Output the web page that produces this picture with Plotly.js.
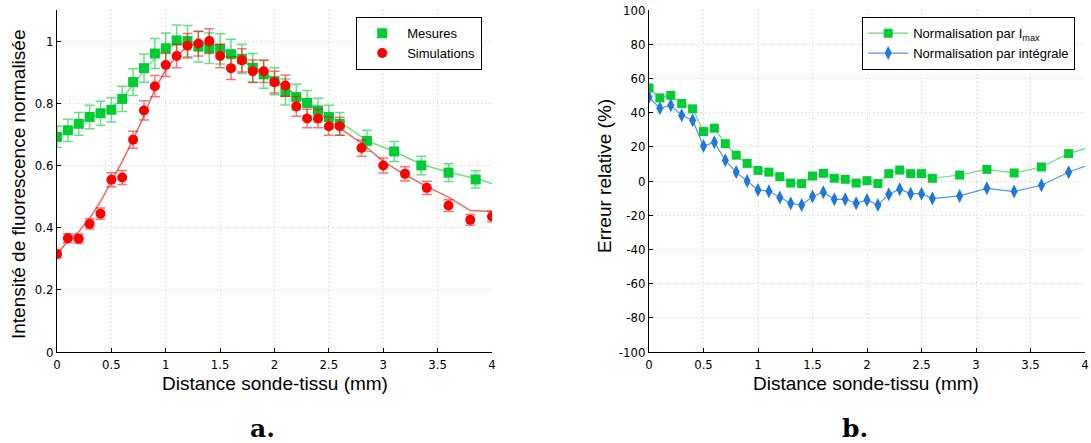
<!DOCTYPE html>
<html>
<head>
<meta charset="utf-8">
<script src="https://cdn.plot.ly/plotly-3.0.1.min.js"></script>
<style>html,body{margin:0;padding:0;background:#fff;}#chart{width:1091px;height:443px;}</style>
</head>
<body>
<div id="chart"></div>
<script>
// ---- Data ----
const xMes = [0,0.1,0.2,0.3,0.4,0.5,0.6,0.7,0.8,0.9,1.0,1.1,1.2,1.3,1.4,1.5,1.6,1.7,1.8,1.9,2.0,2.1,2.2,2.3,2.4,2.5,2.6,2.85,3.1,3.35,3.6,3.85];
const mesures = [0.692,0.713,0.734,0.756,0.768,0.779,0.814,0.868,0.913,0.960,0.977,1.002,1.0,0.982,0.977,0.975,0.958,0.943,0.914,0.893,0.871,0.836,0.82,0.801,0.777,0.756,0.734,0.679,0.645,0.60,0.577,0.555];
const xSim = [0,0.1,0.2,0.3,0.4,0.5,0.6,0.7,0.8,0.9,1.0,1.1,1.2,1.3,1.4,1.5,1.6,1.7,1.8,1.9,2.0,2.1,2.2,2.3,2.4,2.5,2.6,2.8,3.0,3.2,3.4,3.6,3.8,4.0];
const simulations = [0.315,0.366,0.364,0.412,0.445,0.554,0.561,0.683,0.777,0.855,0.923,0.952,0.985,0.992,1.0,0.952,0.913,0.938,0.903,0.903,0.868,0.857,0.790,0.751,0.751,0.726,0.726,0.656,0.60,0.573,0.528,0.471,0.425,0.436];
const xFitMes = [0,0.1,0.2,0.3,0.4,0.5,0.6,0.7,0.8,0.9,1.0,1.1,1.2,1.3,1.4,1.5,1.6,1.7,1.8,1.9,2.0,2.1,2.2,2.3,2.4,2.5,2.6,2.85,3.1,3.35,3.6,3.85,4.0];
const fitMes = [0.692,0.712,0.732,0.752,0.77,0.787,0.815,0.86,0.905,0.945,0.975,0.99,0.995,0.99,0.982,0.972,0.958,0.942,0.922,0.9,0.876,0.85,0.826,0.804,0.782,0.76,0.74,0.68,0.645,0.604,0.578,0.558,0.542];
const fitSim = [0.317,0.355,0.387,0.43,0.484,0.548,0.613,0.683,0.76,0.845,0.908,0.952,0.983,0.993,0.993,0.98,0.96,0.938,0.915,0.895,0.872,0.85,0.825,0.8,0.773,0.746,0.72,0.672,0.613,0.57,0.532,0.498,0.455,0.452];
const errMesPct = 5;   // error bars (% of value), measured
const errSimPct = 4;

const xErr = [0,0.1,0.2,0.3,0.4,0.5,0.6,0.7,0.8,0.9,1.0,1.1,1.2,1.3,1.4,1.5,1.6,1.7,1.8,1.9,2.0,2.1,2.2,2.3,2.4,2.5,2.6,2.85,3.1,3.35,3.6,3.85,4.1];
const errImax = [54.4,48.6,50.1,45.3,42.2,28.9,30.9,21.8,15.1,10.3,6.2,5.2,2.5,-1.2,-1.5,2.9,4.5,1.6,1.0,-1.2,0.2,-1.5,4.3,6.4,4.3,4.3,1.6,3.5,6.8,4.7,8.2,16.0,20.8];
const errInt = [49.1,42.5,44.3,38.4,35.5,20.4,22.7,12.1,5.2,0,-5.2,-6.0,-9.7,-13.0,-14.1,-9.1,-6.6,-10.7,-10.7,-13.0,-11.1,-14.1,-7.7,-4.8,-7.4,-7.4,-10.3,-8.7,-4.3,-6.2,-2.5,5.1,11.1];

const yTicksA = [0, 0.2, 0.4, 0.6, 0.8, 1];
const yTicksB = [-100, -80, -60, -40, -20, 0, 20, 40, 60, 80, 100];
const yTickTextB = ['-100', '-80', '-60', '-40', '-20', '0', '20', '40', '60', '80', '100'];

const xTitle = 'Distance sonde-tissu (mm)';
const yTitleA = 'Intensité de fluorescence normalisée';
const yTitleB = 'Erreur relative (%)';

// ---- Styles ----
const W = 1091, H = 443;
const tickFont = {family: '"Liberation Sans Narrow", "Arial Narrow", "DejaVu Sans Condensed", "Liberation Sans", Arial, sans-serif', size: 13, color: '#000'};
const titleFont = {family: '"Liberation Sans", Arial, sans-serif', size: 19, color: '#000'};
const legFont = {family: '"Liberation Sans", Arial, sans-serif', size: 13, color: '#000'};
const green = 'rgb(0,204,51)', red = 'rgb(255,0,0)', blue = 'rgb(30,120,220)';

const traces = [
  {x: xFitMes, y: fitMes, mode: 'lines', line: {color: 'rgb(110,225,130)', width: 1.5}, showlegend: false, hoverinfo: 'skip', xaxis: 'x', yaxis: 'y'},
  {x: xSim, y: fitSim, mode: 'lines', line: {color: 'rgb(255,100,100)', width: 1.5}, showlegend: false, hoverinfo: 'skip', xaxis: 'x', yaxis: 'y'},
  {x: xMes, y: mesures, name: 'Mesures', mode: 'markers', marker: {symbol: 'square', size: 10, color: green},
   error_y: {type: 'percent', value: errMesPct, color: 'rgba(0,204,51,0.6)', thickness: 1.5, width: 5},
   xaxis: 'x', yaxis: 'y', legend: 'legend'},
  {x: xSim, y: simulations, name: 'Simulations', mode: 'markers', marker: {symbol: 'circle', size: 10, color: red},
   error_y: {type: 'percent', value: errSimPct, color: 'rgba(255,0,0,0.55)', thickness: 1.5, width: 5},
   xaxis: 'x', yaxis: 'y', legend: 'legend'},
  {x: xErr, y: errImax, name: 'Normalisation par I<sub>max</sub>', mode: 'lines+markers',
   line: {color: 'rgb(100,220,120)', width: 1.2}, marker: {symbol: 'square', size: 9, color: green},
   xaxis: 'x2', yaxis: 'y2', legend: 'legend2'},
  {x: xErr, y: errInt, name: 'Normalisation par intégrale', mode: 'lines+markers',
   line: {color: 'rgb(80,150,230)', width: 1.2}, marker: {symbol: 'diamond-tall', size: 10, color: blue},
   xaxis: 'x2', yaxis: 'y2', legend: 'legend2'}
];

const axBase = {
  showgrid: true, gridcolor: '#cfcfcf', griddash: '1px,3px', gridwidth: 1,
  showline: true, linecolor: '#000', linewidth: 1, mirror: false,
  ticks: 'inside', ticklen: 4, tickcolor: '#000', zeroline: false,
  tickfont: tickFont, fixedrange: true
};
const yDom = [(H - 352) / H, (H - 10) / H];

const layout = {
  width: W, height: H,
  margin: {l: 0, r: 0, t: 0, b: 0},
  paper_bgcolor: '#fff', plot_bgcolor: '#fff',
  showlegend: true,
  xaxis: Object.assign({}, axBase, {domain: [57 / W, 492 / W], range: [0, 4], tick0: 0, dtick: 0.5, anchor: 'y'}),
  yaxis: Object.assign({}, axBase, {domain: yDom, range: [0, 1.1], tickvals: yTicksA, anchor: 'x'}),
  xaxis2: Object.assign({}, axBase, {domain: [649 / W, 1085 / W], range: [0, 4], tick0: 0, dtick: 0.5, anchor: 'y2'}),
  yaxis2: Object.assign({}, axBase, {domain: yDom, range: [-100, 100], tickmode: 'array', tickvals: yTicksB, ticktext: yTickTextB, anchor: 'x2'}),
  legend: {x: 356 / W, y: 1 - 17 / H, xanchor: 'left', yanchor: 'top', bgcolor: '#fff', bordercolor: '#000', borderwidth: 1.2, font: legFont, tracegroupgap: 0, itemwidth: 40},
  legend2: {x: 862 / W, y: 1 - 17 / H, xanchor: 'left', yanchor: 'top', bgcolor: '#fff', bordercolor: '#000', borderwidth: 1.2, font: legFont, tracegroupgap: 0, itemwidth: 40},
  annotations: [
    {text: xTitle, xref: 'paper', yref: 'paper', x: 275 / W, y: 1 - 383 / H, showarrow: false, font: titleFont, xanchor: 'center', yanchor: 'middle'},
    {text: xTitle, xref: 'paper', yref: 'paper', x: 866 / W, y: 1 - 383 / H, showarrow: false, font: titleFont, xanchor: 'center', yanchor: 'middle'},
    {text: yTitleA, xref: 'paper', yref: 'paper', x: 18 / W, y: 1 - 185 / H, showarrow: false, font: titleFont, textangle: -90, xanchor: 'center', yanchor: 'middle'},
    {text: yTitleB, xref: 'paper', yref: 'paper', x: 604 / W, y: 1 - 176 / H, showarrow: false, font: titleFont, textangle: -90, xanchor: 'center', yanchor: 'middle'},
    {text: '<b>a.</b>', xref: 'paper', yref: 'paper', x: 262 / W, y: 1 - 428 / H, showarrow: false, font: {family: '"DejaVu Serif", "Liberation Serif", serif', size: 25, color: '#000'}, xanchor: 'center', yanchor: 'middle'},
    {text: '<b>b.</b>', xref: 'paper', yref: 'paper', x: 855 / W, y: 1 - 428 / H, showarrow: false, font: {family: '"DejaVu Serif", "Liberation Serif", serif', size: 25, color: '#000'}, xanchor: 'center', yanchor: 'middle'}
  ]
};

Plotly.newPlot('chart', traces, layout, {staticPlot: true, displayModeBar: false});
</script>
</body>
</html>
